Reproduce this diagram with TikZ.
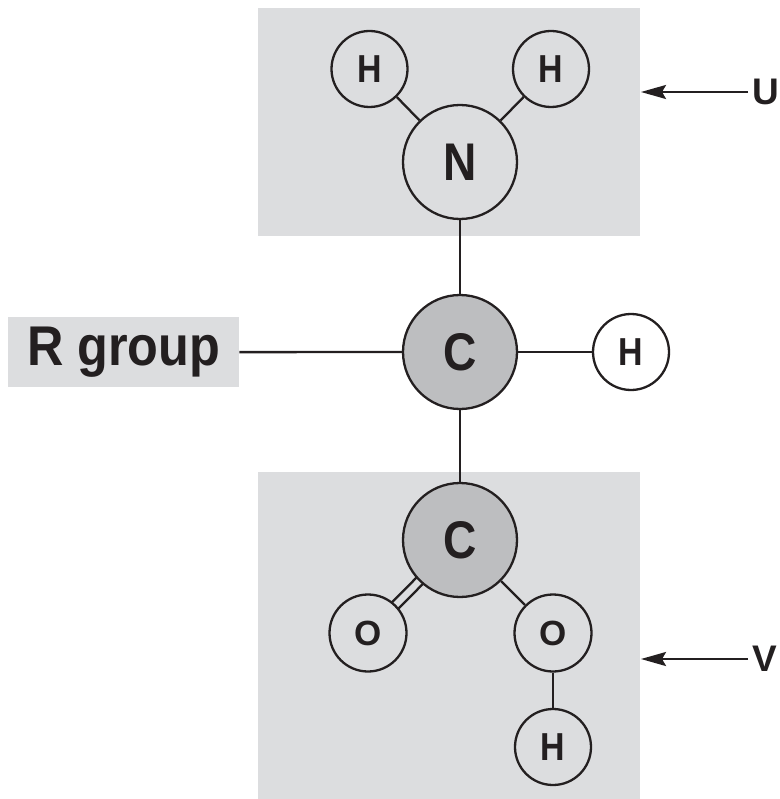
\documentclass[tikz,border=0pt]{standalone}
\usepackage{fontspec}
\setmainfont{Liberation Sans}
\newfontfamily\atomfont[FakeStretch=0.87]{Liberation Sans}
\newfontfamily\rfont[FakeStretch=0.9]{Liberation Sans}
\usetikzlibrary{arrows.meta,calc}
\definecolor{boxgray}{HTML}{DCDDDF}
\definecolor{cgray}{HTML}{BDBEC0}
\definecolor{ink}{HTML}{231F20}
\tikzset{
  atom/.style={circle, draw=ink, line width=2.3pt, inner sep=0pt, text=ink},
  bigatom/.style={atom, minimum size=114pt, font=\atomfont\bfseries\fontsize{53}{53}\selectfont},
  smallatom/.style={atom, minimum size=76pt, font=\atomfont\bfseries\fontsize{39}{39}\selectfont},
  oatom/.style={atom, minimum size=77pt, font=\bfseries\fontsize{35}{35}\selectfont},
  bond/.style={draw=ink, line width=2.3pt},
  pointer/.style={draw=ink, line width=2.3pt, -{Stealth[length=25pt,width=14pt,inset=4pt]}},
  lbl/.style={text=ink, font=\bfseries\fontsize{37}{37}\selectfont, inner sep=0pt, anchor=west}
}
\begin{document}
\begin{tikzpicture}[x=1pt,y=-1pt]
\useasboundingbox (0,0) rectangle (779,799);
% group boxes
\fill[boxgray] (258,8) rectangle (640,236);
\fill[boxgray] (258,472) rectangle (640,799);
\node[fill=boxgray, minimum width=231pt, minimum height=70pt, inner sep=0pt, anchor=north west, text=ink, font=\rfont\bfseries\fontsize{56}{56}\selectfont] (R) at (8,317) {R group};
% atoms
\node[bigatom] (N) at (460,162) {N};
\node[smallatom] (H1) at (369.5,69) {H};
\node[smallatom] (H2) at (551,69) {H};
\node[bigatom, fill=cgray] (C1) at (460,352) {C};
\node[smallatom, fill=white] (H3) at (631,352) {H};
\node[bigatom, fill=cgray] (C2) at (460,540) {C};
\node[oatom] (O1) at (368,633) {O};
\node[oatom] (O2) at (553,633) {O};
\node[smallatom] (H4) at (553,747) {H};
% bonds
\draw[bond] (N) -- (H1);
\draw[bond] (N) -- (H2);
\draw[bond] (N) -- (C1);
\draw[bond] (R) -- (C1);
\draw[bond] (C1) -- (H3);
\draw[bond] (C1) -- (C2);
\draw[bond] (C2) -- (O2);
\draw[bond] (O2) -- (H4);
% double bond C=O
\coordinate (dA) at ($(C2)!57pt!(O1)$);
\coordinate (dB) at ($(O1)!38.5pt!(C2)$);
\draw[bond] ($(dA)!4.5pt!90:(dB)$) -- ($(dB)!4.5pt!-90:(dA)$);
\draw[bond] ($(dA)!4.5pt!-90:(dB)$) -- ($(dB)!4.5pt!90:(dA)$);
% labels and pointers
\node[lbl] (U) at (752,92) {U};
\node[lbl] (V) at (752,659) {V};
\coordinate (Ut) at (641,92);
\coordinate (Vt) at (641,659);
\draw[pointer] ($(U.west)+(-4pt,0)$) -- (Ut);
\draw[pointer] ($(V.west)+(-4pt,0)$) -- (Vt);
\end{tikzpicture}
\end{document}
